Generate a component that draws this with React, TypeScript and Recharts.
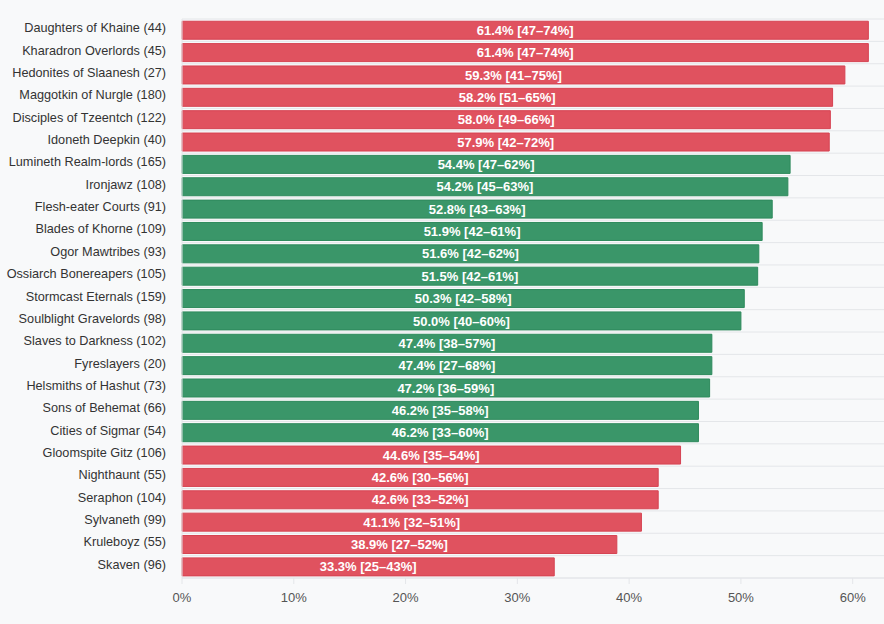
import React from 'react';
import { BarChart, Bar, XAxis, YAxis, CartesianGrid, Cell, LabelList } from 'recharts';

const factions = [
  'Daughters of Khaine', 'Kharadron Overlords', 'Hedonites of Slaanesh', 'Maggotkin of Nurgle',
  'Disciples of Tzeentch', 'Idoneth Deepkin', 'Lumineth Realm-lords', 'Ironjawz',
  'Flesh-eater Courts', 'Blades of Khorne', 'Ogor Mawtribes', 'Ossiarch Bonereapers',
  'Stormcast Eternals', 'Soulblight Gravelords', 'Slaves to Darkness', 'Fyreslayers',
  'Helsmiths of Hashut', 'Sons of Behemat', 'Cities of Sigmar', 'Gloomspite Gitz',
  'Nighthaunt', 'Seraphon', 'Sylvaneth', 'Kruleboyz', 'Skaven',
];
const games = [44, 45, 27, 180, 122, 40, 165, 108, 91, 109, 93, 105, 159, 98, 102, 20, 73, 66, 54, 106, 55, 104, 99, 55, 96];
const winRates = [61.4, 61.4, 59.3, 58.2, 58.0, 57.9, 54.4, 54.2, 52.8, 51.9, 51.6, 51.5, 50.3, 50.0, 47.4, 47.4, 47.2, 46.2, 46.2, 44.6, 42.6, 42.6, 41.1, 38.9, 33.3];
const ciLow = [47, 47, 41, 51, 49, 42, 47, 45, 43, 42, 42, 42, 42, 40, 38, 27, 36, 35, 33, 35, 30, 33, 32, 27, 25];
const ciHigh = [74, 74, 75, 65, 66, 72, 62, 63, 63, 61, 62, 61, 58, 60, 57, 68, 59, 58, 60, 54, 56, 52, 51, 52, 43];
const status = [
  'out', 'out', 'out', 'out', 'out', 'out',
  'in', 'in', 'in', 'in', 'in', 'in', 'in', 'in', 'in', 'in', 'in', 'in', 'in',
  'out', 'out', 'out', 'out', 'out', 'out',
];
const xTicks = [0, 10, 20, 30, 40, 50, 60];

const fills: Record<string, string> = { out: '#e0525f', in: '#3a9669' };
const strokes: Record<string, string> = { out: '#d64352', in: '#2e8a5c' };

const data = factions.map((f, i) => ({
  name: `${f} (${games[i]})`,
  value: winRates[i],
  status: status[i],
  label: `${winRates[i].toFixed(1)}% [${ciLow[i]}–${ciHigh[i]}%]`,
}));

const FONT = '"Liberation Sans", Arial, Helvetica, sans-serif';

const YTick = (props: any) => {
  const { x, y, payload } = props;
  return (
    <text x={x} y={y - 2} textAnchor="end" dominantBaseline="central" fill="#333" fontSize={12.7} fontFamily={FONT}>
      {payload.value}
    </text>
  );
};

export default function App() {
  return (
    <div style={{ width: 884, height: 624, background: '#f8f9fa', fontFamily: FONT }}>
      <style>{`body{margin:0;background:#f8f9fa;}`}</style>
      <BarChart
        width={884}
        height={624}
        data={data}
        layout="vertical"
        margin={{ top: 19, right: 0, left: 0, bottom: 16 }}
        barCategoryGap="10%"
      >
        <CartesianGrid
          vertical={false}
          stroke="#e4e6e9"
          horizontalCoordinatesGenerator={({ offset }: any) =>
            Array.from({ length: data.length + 1 }, (_, i) => offset.top + (i * offset.height) / data.length)
          }
        />
        <XAxis
          type="number"
          domain={[0, 62.8]}
          ticks={xTicks}
          tickFormatter={(v: number) => `${v}%`}
          height={30}
          axisLine={{ stroke: '#e4e6e9' }}
          tickLine={{ stroke: '#e4e6e9' }}
          tickSize={6}
          tickMargin={9}
          tick={{ fill: '#555', fontSize: 13, fontFamily: FONT }}
        />
        <YAxis
          type="category"
          dataKey="name"
          width={182}
          interval={0}
          tickLine={false}
          axisLine={{ stroke: '#e4e6e9' }}
          tickMargin={10}
          tick={<YTick />}
        />
        <Bar dataKey="value" isAnimationActive={false} strokeWidth={1}>
          {data.map((d, i) => (
            <Cell key={i} fill={fills[d.status]} stroke={strokes[d.status]} />
          ))}
          <LabelList
            dataKey="label"
            position="center"
            fill="#fff"
            fontSize={13}
            fontWeight="bold"
            fontFamily={FONT}
          />
        </Bar>
      </BarChart>
    </div>
  );
}
